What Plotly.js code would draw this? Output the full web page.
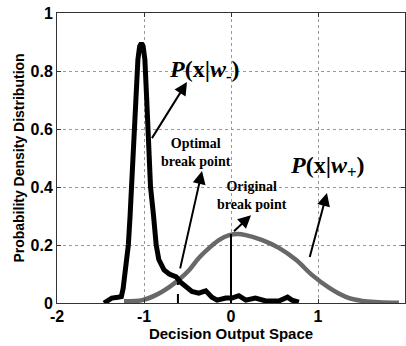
<!DOCTYPE html>
<html>
<head>
<meta charset="utf-8">
<script src="https://cdn.plot.ly/plotly-3.0.1.min.js"></script>
<style>html,body{margin:0;padding:0;background:#fff;}</style>
</head>
<body>
<div id="chart" style="width:406px;height:346px;"></div>
<script>
// P(x|w-) : black curve
const negX = [-1.46,-1.40,-1.37,-1.30,-1.26,-1.24,-1.22,-1.18,-1.16,-1.13,-1.10,-1.07,-1.05,-1.03,-1.01,-0.99,-0.97,-0.94,-0.925,-0.89,-0.86,-0.83,-0.77,-0.71,-0.63,-0.58,-0.50,-0.45,-0.37,-0.29,-0.22,-0.16,-0.06,0.01,0.09,0.17,0.28,0.40,0.55,0.65,0.70,0.78];
const negY = [0.0,0.01,0.017,0.02,0.022,0.05,0.10,0.20,0.30,0.50,0.71,0.84,0.885,0.896,0.885,0.84,0.71,0.50,0.40,0.30,0.20,0.15,0.114,0.10,0.09,0.072,0.05,0.04,0.034,0.042,0.02,0.01,0.017,0.017,0.025,0.01,0.017,0.007,0.007,0.02,0.01,0.003];
// P(x|w+) : gray curve
const posX = [-1.23,-1.02,-0.86,-0.71,-0.60,-0.48,-0.37,-0.25,-0.14,-0.02,0.08,0.17,0.36,0.55,0.75,0.93,1.13,1.32,1.51,1.70,1.93];
const posY = [0.006,0.01,0.028,0.055,0.08,0.114,0.155,0.19,0.217,0.234,0.238,0.234,0.217,0.19,0.148,0.097,0.052,0.021,0.007,0.003,0.001];
// break points
const optimalBreak = [-0.61, 0.085];
const originalBreak = [0.0, 0.238];
const xTicks = [-2,-1,0,1,2];
const xTickLabels = ['-2','-1','0','1','2'];
const yTicks = [0,0.2,0.4,0.6,0.8,1];
const yTickLabels = ['0','0.2','0.4','0.6','0.8','1'];

const traces = [
  {x: posX, y: posY, mode:'lines', line:{color:'#686868', width:4.5, shape:'spline'}, hoverinfo:'skip'},
  {x: negX, y: negY, mode:'lines', line:{color:'#000', width:5}, hoverinfo:'skip'}
];

const serif = 'Liberation Serif, Times New Roman, serif';
const sans = 'Liberation Sans, Arial, sans-serif';
const arrowCommon = {showarrow:true, text:' ', axref:'x', ayref:'y', arrowhead:2, arrowsize:1.3, arrowwidth:2, arrowcolor:'#000'};
const bold = a => a.map(s => '<b>' + s + '</b>');

const layout = {
  width:406, height:346,
  margin:{l:57, r:1, t:13, b:43},
  paper_bgcolor:'#fff', plot_bgcolor:'#fff',
  showlegend:false,
  xaxis:{range:[-2,2], tickvals:xTicks, ticktext:bold(xTickLabels), showgrid:true, gridcolor:'#999', griddash:'dot', gridwidth:1,
    zeroline:false, showline:true, linecolor:'#333', linewidth:1, mirror:'ticks', ticks:'inside', ticklen:4, tickcolor:'#333',
    ticklabelstandoff:-1,
    tickfont:{family:sans, size:16, color:'#000'},
    title:{text:'<b>Decision Output Space</b>', font:{family:sans, size:15, color:'#000'}, standoff:4}, automargin:false},
  yaxis:{range:[0,1], tickvals:yTicks, ticktext:bold(yTickLabels), showgrid:true, gridcolor:'#999', griddash:'dot', gridwidth:1,
    zeroline:false, showline:true, linecolor:'#333', linewidth:1, mirror:'ticks', ticks:'inside', ticklen:4, tickcolor:'#333',
    tickfont:{family:sans, size:16, color:'#000'},
    title:{text:'<b>Probability Density Distribution</b>', font:{family:sans, size:14, color:'#000'}, standoff:2}, automargin:false},
  shapes:[
    {type:'line', x0:originalBreak[0], x1:originalBreak[0], y0:0, y1:originalBreak[1], line:{color:'#000', width:2}},
    {type:'line', x0:optimalBreak[0], x1:optimalBreak[0], y0:0, y1:optimalBreak[1], line:{color:'#000', width:2, dash:'dash'}}
  ],
  annotations:[
    {x:-0.30, y:0.80, text:'<b><i>P</i>(x|<i>w</i><sub>-</sub>)</b>', showarrow:false, font:{family:serif, size:24, color:'#000'}},
    {x:-0.40, y:0.52, text:'<b>Optimal<br>break point</b>', showarrow:false, font:{family:serif, size:14, color:'#000'}},
    {x:0.24, y:0.37, text:'<b>Original<br>break point</b>', showarrow:false, font:{family:serif, size:14, color:'#000'}},
    {x:1.11, y:0.47, text:'<b><i>P</i>(x|<i>w</i><sub>+</sub>)</b>', showarrow:false, font:{family:serif, size:24, color:'#000'}},
    Object.assign({x:-0.506, y:0.762, ax:-0.943, ay:0.552}, arrowCommon),
    Object.assign({x:-0.333, y:0.455, ax:optimalBreak[0], ay:optimalBreak[1]}, arrowCommon),
    Object.assign({x:0.23, y:0.303, ax:originalBreak[0], ay:originalBreak[1]}, arrowCommon),
    Object.assign({x:1.103, y:0.379, ax:0.874, ay:0.124}, arrowCommon)
  ]
};

Plotly.newPlot('chart', traces, layout, {staticPlot:true, displayModeBar:false});
</script>
</body>
</html>
